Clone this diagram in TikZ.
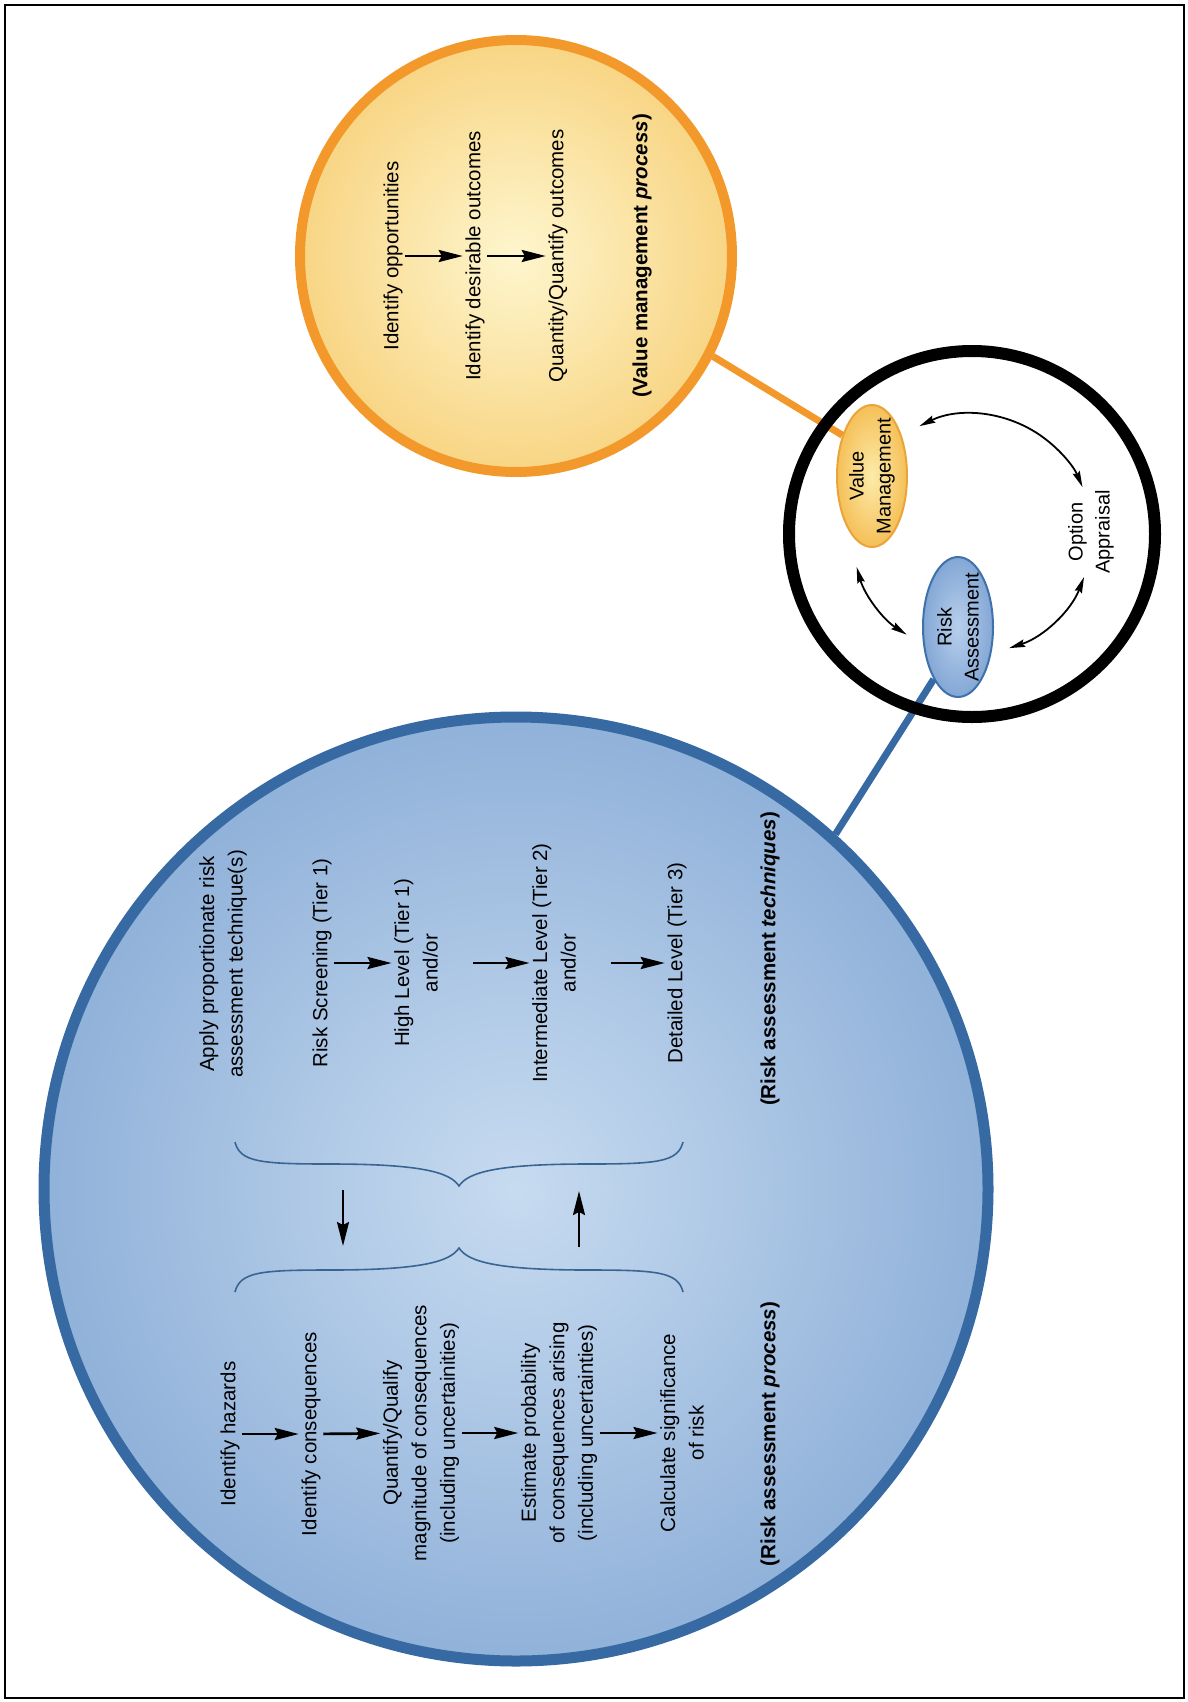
\documentclass[tikz,border=0pt]{standalone}
\usepackage{fontspec}
\setmainfont{Liberation Sans}
\usetikzlibrary{arrows.meta,calc,shapes.geometric}

\definecolor{bigIn}{HTML}{C7DBF0}
\definecolor{bigOut}{HTML}{90B1D9}
\definecolor{bigLine}{HTML}{3769A3}
\definecolor{orIn}{HTML}{FEF6CE}
\definecolor{orOut}{HTML}{F8D584}
\definecolor{orLine}{HTML}{F3982A}
\definecolor{vmIn}{HTML}{FCEBAA}
\definecolor{vmOut}{HTML}{F5C058}
\definecolor{vmLine}{HTML}{E9A53B}
\definecolor{raIn}{HTML}{B8CFEC}
\definecolor{raOut}{HTML}{83A7D5}
\definecolor{raLine}{HTML}{3F72AA}
\definecolor{braceC}{HTML}{3A6593}

\begin{document}
\begin{tikzpicture}[x=1pt,y=-1pt,
  txt/.style={rotate=90, align=center, inner sep=2.5pt,
    font=\fontsize{20.5}{28.5}\selectfont},
  ttl/.style={txt, font=\fontsize{20.5}{28.5}\selectfont\bfseries},
  flow/.style={-{Stealth[length=24pt,width=12pt,inset=3pt]}, line width=2.7pt},
  cyc/.style={{Stealth[length=16pt,width=7.5pt,inset=2pt]}-{Stealth[length=16pt,width=7.5pt,inset=2pt]}, line width=1.8pt},
  curlyline/.style={draw=braceC, line width=1.6pt},
  oval/.style={ellipse, rotate=90, align=center, inner xsep=-12pt, inner ysep=0pt,
    line width=2pt, font=\fontsize{20}{27}\selectfont},
]
\useasboundingbox (0,0) rectangle (1187,1702);
\draw[line width=2pt] (5,5) rectangle (1184,1698);

% discs
\node[circle, minimum size=944pt, inner sep=0pt, draw=bigLine, line width=11pt,
      shade, inner color=bigIn, outer color=bigOut] (bigc) at (516,1189) {};
\node[circle, minimum size=432pt, inner sep=0pt, draw=orLine, line width=10pt,
      shade, inner color=orIn, outer color=orOut] (orc) at (516,256) {};

% cycle of activities
\node[oval, minimum width=142pt, minimum height=70pt, draw=vmLine,
      shade, inner color=vmIn, outer color=vmOut] (vm) at (872,476) {Value\\Management};
\node[oval, minimum width=140pt, minimum height=70pt, draw=raLine,
      shade, inner color=raIn, outer color=raOut] (ra) at (958,627) {Risk\\Assessment};
\node[txt, font=\fontsize{20}{27}\selectfont] (oa) at (1091,532) {Option\\Appraisal};

\draw[orLine, line width=7pt] (orc.-27) -- (vm.36);
\draw[bigLine, line width=7pt] (bigc.48) -- (ra.155);

\node[circle, minimum size=366pt, inner sep=0pt, draw, line width=12pt] (bc) at (972,534) {};

\coordinate (c1a) at ($(bc)+(-116:120)$);
\coordinate (c2a) at ($(bc)+(21:120)$);
\coordinate (c3a) at ($(bc)+(-196:120)$);
\draw[cyc] (c1a) arc[start angle=-116, end angle=-23, radius=120];
\draw[cyc] (c2a) arc[start angle=21, end angle=72, radius=120];
\draw[cyc] (c3a) arc[start angle=-196, end angle=-237, radius=120];

% value management process
\node[txt] (o1) at (393,256) {Identify opportunities};
\node[txt] (o2) at (475,256) {Identify desirable outcomes};
\node[txt] (o3) at (558,256) {Quantity/Quantify outcomes};
\node[ttl] (o4) at (642,256) {(Value management \textit{process})};
\draw[flow] (o1) -- (o2);
\draw[flow] (o2) -- (o3);

% risk assessment techniques
\node[txt] (u0) at (223,964) {Apply proportionate risk\\assessment technique(s)};
\node[txt] (u1) at (322,963) {Risk Screening (Tier 1)};
\node[txt] (u2) at (416,963) {High Level (Tier 1)\\and/or};
\node[txt] (u3) at (554,963) {Intermediate Level (Tier 2)\\and/or};
\node[txt] (u4) at (677,963) {Detailed Level (Tier 3)};
\node[ttl] (u5) at (770,959) {(Risk assessment \textit{techniques})};
\draw[flow] (u1) -- (u2);
\draw[flow, shorten <=33pt] (u2) -- (u3);
\draw[flow, shorten <=33pt] (u3) -- (u4);

% risk assessment process
\node[txt] (b1) at (230,1434) {Identify hazards};
\node[txt] (b2) at (311,1434) {Identify consequences};
\node[txt] (b3) at (421,1433) {Quantify/Qualify\\magnitude of consequences\\(including uncertainities)};
\node[txt] (b4) at (559,1433) {Estimate probability\\of consequences arising\\(including uncertainties)};
\node[txt] (b5) at (682,1433) {Calculate significance\\of risk};
\node[ttl] (b6) at (770,1434) {(Risk assessment \textit{process})};
\draw[flow] (b1) -- (b2);
\draw[flow] (b2) -- (b3);
\draw[flow] (b3) -- (b4);
\draw[flow] (b4) -- (b5);

% braces linking the two sequences
\draw[curlyline] (235,1142) .. controls (240,1162) and (260,1164) .. (330,1164)
  .. controls (420,1164) and (450,1172) .. (459,1186)
  .. controls (468,1172) and (498,1164) .. (588,1164)
  .. controls (658,1164) and (678,1162) .. (683,1142);
\draw[curlyline] (235,1292) .. controls (240,1272) and (260,1270) .. (330,1270)
  .. controls (420,1270) and (450,1262) .. (459,1248)
  .. controls (468,1262) and (498,1270) .. (588,1270)
  .. controls (658,1270) and (678,1272) .. (683,1292);

\coordinate (dnA) at (343,1190);
\coordinate (dnB) at (343,1246);
\coordinate (upA) at (579,1247);
\coordinate (upB) at (579,1191);
\draw[flow, line width=2.2pt] (dnA) -- (dnB);
\draw[flow, line width=2.2pt] (upA) -- (upB);
\end{tikzpicture}
\end{document}
